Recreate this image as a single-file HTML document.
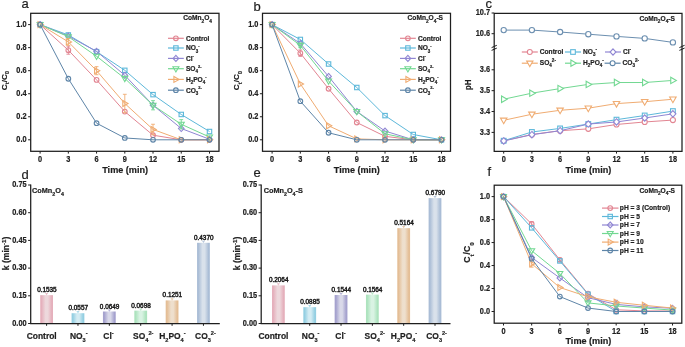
<!DOCTYPE html>
<html><head><meta charset="utf-8"><style>html,body{margin:0;padding:0;background:#fff;} svg,text{font-family:"Liberation Sans",sans-serif;}svg{display:block;will-change:transform;} text{stroke:#1e1e1e;stroke-width:0.2px;}</style></head>
<body>
<svg width="685" height="347" viewBox="0 0 685 347"  fill="#1e1e1e">
<rect width="685" height="347" fill="#fff"/>
<rect x="30.7" y="13.3" width="188.30" height="138.00" fill="none" stroke="#1e1e1e" stroke-width="1.25"/>
<line x1="28.10" y1="139.80" x2="30.70" y2="139.80" stroke="#1e1e1e" stroke-width="1.0"/>
<text transform="translate(26.60,142.15) scale(0.9,1)" font-size="8.2" font-weight="bold" text-anchor="end" >0.0</text>
<line x1="28.10" y1="116.76" x2="30.70" y2="116.76" stroke="#1e1e1e" stroke-width="1.0"/>
<text transform="translate(26.60,119.11) scale(0.9,1)" font-size="8.2" font-weight="bold" text-anchor="end" >0.2</text>
<line x1="28.10" y1="93.72" x2="30.70" y2="93.72" stroke="#1e1e1e" stroke-width="1.0"/>
<text transform="translate(26.60,96.07) scale(0.9,1)" font-size="8.2" font-weight="bold" text-anchor="end" >0.4</text>
<line x1="28.10" y1="70.68" x2="30.70" y2="70.68" stroke="#1e1e1e" stroke-width="1.0"/>
<text transform="translate(26.60,73.03) scale(0.9,1)" font-size="8.2" font-weight="bold" text-anchor="end" >0.6</text>
<line x1="28.10" y1="47.64" x2="30.70" y2="47.64" stroke="#1e1e1e" stroke-width="1.0"/>
<text transform="translate(26.60,49.99) scale(0.9,1)" font-size="8.2" font-weight="bold" text-anchor="end" >0.8</text>
<line x1="28.10" y1="24.60" x2="30.70" y2="24.60" stroke="#1e1e1e" stroke-width="1.0"/>
<text transform="translate(26.60,26.95) scale(0.9,1)" font-size="8.2" font-weight="bold" text-anchor="end" >1.0</text>
<line x1="40.10" y1="151.3" x2="40.10" y2="153.60000000000002" stroke="#1e1e1e" stroke-width="1.0"/>
<text transform="translate(40.10,161.70) scale(0.9,1)" font-size="8.2" font-weight="bold" text-anchor="middle" >0</text>
<line x1="68.33" y1="151.3" x2="68.33" y2="153.60000000000002" stroke="#1e1e1e" stroke-width="1.0"/>
<text transform="translate(68.33,161.70) scale(0.9,1)" font-size="8.2" font-weight="bold" text-anchor="middle" >3</text>
<line x1="96.57" y1="151.3" x2="96.57" y2="153.60000000000002" stroke="#1e1e1e" stroke-width="1.0"/>
<text transform="translate(96.57,161.70) scale(0.9,1)" font-size="8.2" font-weight="bold" text-anchor="middle" >6</text>
<line x1="124.80" y1="151.3" x2="124.80" y2="153.60000000000002" stroke="#1e1e1e" stroke-width="1.0"/>
<text transform="translate(124.80,161.70) scale(0.9,1)" font-size="8.2" font-weight="bold" text-anchor="middle" >9</text>
<line x1="153.03" y1="151.3" x2="153.03" y2="153.60000000000002" stroke="#1e1e1e" stroke-width="1.0"/>
<text transform="translate(153.03,161.70) scale(0.9,1)" font-size="8.2" font-weight="bold" text-anchor="middle" >12</text>
<line x1="181.26" y1="151.3" x2="181.26" y2="153.60000000000002" stroke="#1e1e1e" stroke-width="1.0"/>
<text transform="translate(181.26,161.70) scale(0.9,1)" font-size="8.2" font-weight="bold" text-anchor="middle" >15</text>
<line x1="209.50" y1="151.3" x2="209.50" y2="153.60000000000002" stroke="#1e1e1e" stroke-width="1.0"/>
<text transform="translate(209.50,161.70) scale(0.9,1)" font-size="8.2" font-weight="bold" text-anchor="middle" >18</text>
<text transform="translate(125.15,172.60) scale(0.96,1)" font-size="9.5" font-weight="bold" text-anchor="middle" >Time (min)</text>
<text x="21.4" y="7.7" font-size="13" font-weight="normal">a</text>
<text x="183.2" y="20.3" font-size="6.6" font-weight="bold">CoMn<tspan font-size="4.80" dy="2.20">2</tspan><tspan dy="-2.20">O</tspan><tspan font-size="4.80" dy="2.20">4</tspan></text>
<text transform="translate(6.6,80.6) rotate(-90) scale(1,0.9)" font-size="8.1" font-weight="bold" text-anchor="middle">C<tspan font-size="5.83" dy="3.00">t</tspan><tspan dy="-3.00">/C</tspan><tspan font-size="5.83" dy="3.00">0</tspan></text>
<polyline points="40.10,24.60 68.33,50.17 96.57,79.90 124.80,111.58 153.03,135.19 181.26,139.80 209.50,139.80" fill="none" stroke="#E28592" stroke-width="1.0"/>
<path d="M68.33,46.14V54.21M66.43,46.14h3.8M66.43,54.21h3.8" stroke="#E28592" stroke-width="0.9" fill="none"/>
<circle cx="40.10" cy="24.60" r="2.35" fill="none" stroke="#E28592" stroke-width="1.1"/>
<circle cx="68.33" cy="50.17" r="2.35" fill="none" stroke="#E28592" stroke-width="1.1"/>
<circle cx="96.57" cy="79.90" r="2.35" fill="none" stroke="#E28592" stroke-width="1.1"/>
<circle cx="124.80" cy="111.58" r="2.35" fill="none" stroke="#E28592" stroke-width="1.1"/>
<circle cx="153.03" cy="135.19" r="2.35" fill="none" stroke="#E28592" stroke-width="1.1"/>
<circle cx="181.26" cy="139.80" r="2.35" fill="none" stroke="#E28592" stroke-width="1.1"/>
<circle cx="209.50" cy="139.80" r="2.35" fill="none" stroke="#E28592" stroke-width="1.1"/>
<polyline points="40.10,24.60 68.33,34.97 96.57,51.67 124.80,70.33 153.03,94.64 181.26,114.46 209.50,131.51" fill="none" stroke="#5DB8DA" stroke-width="1.0"/>
<rect x="37.90" y="22.40" width="4.40" height="4.40" fill="none" stroke="#5DB8DA" stroke-width="1.1"/>
<rect x="66.13" y="32.77" width="4.40" height="4.40" fill="none" stroke="#5DB8DA" stroke-width="1.1"/>
<rect x="94.37" y="49.47" width="4.40" height="4.40" fill="none" stroke="#5DB8DA" stroke-width="1.1"/>
<rect x="122.60" y="68.13" width="4.40" height="4.40" fill="none" stroke="#5DB8DA" stroke-width="1.1"/>
<rect x="150.83" y="92.44" width="4.40" height="4.40" fill="none" stroke="#5DB8DA" stroke-width="1.1"/>
<rect x="179.06" y="112.26" width="4.40" height="4.40" fill="none" stroke="#5DB8DA" stroke-width="1.1"/>
<rect x="207.30" y="129.31" width="4.40" height="4.40" fill="none" stroke="#5DB8DA" stroke-width="1.1"/>
<polyline points="40.10,24.60 68.33,36.12 96.57,51.33 124.80,75.29 153.03,105.24 181.26,128.51 209.50,139.22" fill="none" stroke="#9086D3" stroke-width="1.0"/>
<polygon points="40.10,21.60 42.90,24.60 40.10,27.60 37.30,24.60" fill="none" stroke="#9086D3" stroke-width="1.1"/>
<polygon points="68.33,33.12 71.13,36.12 68.33,39.12 65.53,36.12" fill="none" stroke="#9086D3" stroke-width="1.1"/>
<polygon points="96.57,48.33 99.37,51.33 96.57,54.33 93.77,51.33" fill="none" stroke="#9086D3" stroke-width="1.1"/>
<polygon points="124.80,72.29 127.60,75.29 124.80,78.29 122.00,75.29" fill="none" stroke="#9086D3" stroke-width="1.1"/>
<polygon points="153.03,102.24 155.83,105.24 153.03,108.24 150.23,105.24" fill="none" stroke="#9086D3" stroke-width="1.1"/>
<polygon points="181.26,125.51 184.06,128.51 181.26,131.51 178.46,128.51" fill="none" stroke="#9086D3" stroke-width="1.1"/>
<polygon points="209.50,136.22 212.30,139.22 209.50,142.22 206.70,139.22" fill="none" stroke="#9086D3" stroke-width="1.1"/>
<polyline points="40.10,24.60 68.33,36.70 96.57,56.28 124.80,78.40 153.03,105.24 181.26,124.25 209.50,137.04" fill="none" stroke="#72D892" stroke-width="1.0"/>
<path d="M153.03,100.63V109.85M151.13,100.63h3.8M151.13,109.85h3.8" stroke="#72D892" stroke-width="0.9" fill="none"/>
<path d="M181.26,119.64V128.86M179.36,119.64h3.8M179.36,128.86h3.8" stroke="#72D892" stroke-width="0.9" fill="none"/>
<polygon points="37.10,22.60 43.10,22.60 40.10,27.80" fill="none" stroke="#72D892" stroke-width="1.1"/>
<polygon points="65.33,34.70 71.33,34.70 68.33,39.90" fill="none" stroke="#72D892" stroke-width="1.1"/>
<polygon points="93.57,54.28 99.57,54.28 96.57,59.48" fill="none" stroke="#72D892" stroke-width="1.1"/>
<polygon points="121.80,76.40 127.80,76.40 124.80,81.60" fill="none" stroke="#72D892" stroke-width="1.1"/>
<polygon points="150.03,103.24 156.03,103.24 153.03,108.44" fill="none" stroke="#72D892" stroke-width="1.1"/>
<polygon points="178.26,122.25 184.26,122.25 181.26,127.45" fill="none" stroke="#72D892" stroke-width="1.1"/>
<polygon points="206.50,135.04 212.50,135.04 209.50,140.24" fill="none" stroke="#72D892" stroke-width="1.1"/>
<polyline points="40.10,24.60 68.33,41.88 96.57,70.68 124.80,103.51 153.03,129.43 181.26,139.80 209.50,139.80" fill="none" stroke="#F0AC72" stroke-width="1.0"/>
<path d="M68.33,38.42V45.34M66.43,38.42h3.8M66.43,45.34h3.8" stroke="#F0AC72" stroke-width="0.9" fill="none"/>
<path d="M96.57,66.65V74.71M94.67,66.65h3.8M94.67,74.71h3.8" stroke="#F0AC72" stroke-width="0.9" fill="none"/>
<path d="M124.80,94.30V112.73M122.90,94.30h3.8M122.90,112.73h3.8" stroke="#F0AC72" stroke-width="0.9" fill="none"/>
<path d="M153.03,124.25V134.62M151.13,124.25h3.8M151.13,134.62h3.8" stroke="#F0AC72" stroke-width="0.9" fill="none"/>
<polygon points="38.10,21.60 38.10,27.60 43.30,24.60" fill="none" stroke="#F0AC72" stroke-width="1.1"/>
<polygon points="66.33,38.88 66.33,44.88 71.53,41.88" fill="none" stroke="#F0AC72" stroke-width="1.1"/>
<polygon points="94.57,67.68 94.57,73.68 99.77,70.68" fill="none" stroke="#F0AC72" stroke-width="1.1"/>
<polygon points="122.80,100.51 122.80,106.51 128.00,103.51" fill="none" stroke="#F0AC72" stroke-width="1.1"/>
<polygon points="151.03,126.43 151.03,132.43 156.23,129.43" fill="none" stroke="#F0AC72" stroke-width="1.1"/>
<polygon points="179.26,136.80 179.26,142.80 184.46,139.80" fill="none" stroke="#F0AC72" stroke-width="1.1"/>
<polygon points="207.50,136.80 207.50,142.80 212.70,139.80" fill="none" stroke="#F0AC72" stroke-width="1.1"/>
<polyline points="40.10,24.60 68.33,78.74 96.57,123.21 124.80,137.96 153.03,139.80 181.26,139.80 209.50,139.80" fill="none" stroke="#5E85A8" stroke-width="1.0"/>
<circle cx="40.10" cy="24.60" r="2.35" fill="none" stroke="#5E85A8" stroke-width="1.1"/>
<circle cx="68.33" cy="78.74" r="2.35" fill="none" stroke="#5E85A8" stroke-width="1.1"/>
<circle cx="96.57" cy="123.21" r="2.35" fill="none" stroke="#5E85A8" stroke-width="1.1"/>
<circle cx="124.80" cy="137.96" r="2.35" fill="none" stroke="#5E85A8" stroke-width="1.1"/>
<circle cx="153.03" cy="139.80" r="2.35" fill="none" stroke="#5E85A8" stroke-width="1.1"/>
<circle cx="181.26" cy="139.80" r="2.35" fill="none" stroke="#5E85A8" stroke-width="1.1"/>
<circle cx="209.50" cy="139.80" r="2.35" fill="none" stroke="#5E85A8" stroke-width="1.1"/>
<line x1="168.0" y1="38.3" x2="183.8" y2="38.3" stroke="#E28592" stroke-width="1.2"/>
<circle cx="175.90" cy="38.30" r="2.35" fill="none" stroke="#E28592" stroke-width="1.1"/>
<text transform="translate(185.90,40.60) scale(0.96,1)" font-size="6.9" font-weight="bold" text-anchor="start" >Control</text>
<line x1="168.0" y1="48.0" x2="183.8" y2="48.0" stroke="#5DB8DA" stroke-width="1.2"/>
<rect x="173.70" y="45.80" width="4.40" height="4.40" fill="none" stroke="#5DB8DA" stroke-width="1.1"/>
<text transform="translate(185.90,50.30) scale(0.96,1)" font-size="6.9" font-weight="bold" text-anchor="start" >NO<tspan font-size="4.69" dy="2.21">3</tspan><tspan font-size="4.14" dy="-5.52">-</tspan></text>
<line x1="168.0" y1="58.4" x2="183.8" y2="58.4" stroke="#9086D3" stroke-width="1.2"/>
<polygon points="175.90,55.40 178.70,58.40 175.90,61.40 173.10,58.40" fill="none" stroke="#9086D3" stroke-width="1.1"/>
<text transform="translate(185.90,60.70) scale(0.96,1)" font-size="6.9" font-weight="bold" text-anchor="start" >Cl<tspan font-size="4.14" dy="-3.31">-</tspan></text>
<line x1="168.0" y1="68.7" x2="183.8" y2="68.7" stroke="#72D892" stroke-width="1.2"/>
<polygon points="172.90,66.70 178.90,66.70 175.90,71.90" fill="none" stroke="#72D892" stroke-width="1.1"/>
<text transform="translate(185.90,71.00) scale(0.96,1)" font-size="6.9" font-weight="bold" text-anchor="start" >SO<tspan font-size="4.69" dy="2.21">4</tspan><tspan font-size="4.14" dy="-5.52">2-</tspan></text>
<line x1="168.0" y1="79.4" x2="183.8" y2="79.4" stroke="#F0AC72" stroke-width="1.2"/>
<polygon points="173.90,76.40 173.90,82.40 179.10,79.40" fill="none" stroke="#F0AC72" stroke-width="1.1"/>
<text transform="translate(185.90,81.70) scale(0.96,1)" font-size="6.9" font-weight="bold" text-anchor="start" >H<tspan font-size="4.69" dy="2.21">2</tspan><tspan dy="-2.21">PO</tspan><tspan font-size="4.69" dy="2.21">4</tspan><tspan font-size="4.14" dy="-5.52">-</tspan></text>
<line x1="168.0" y1="90.2" x2="183.8" y2="90.2" stroke="#5E85A8" stroke-width="1.2"/>
<circle cx="175.90" cy="90.20" r="2.35" fill="none" stroke="#5E85A8" stroke-width="1.1"/>
<text transform="translate(185.90,92.50) scale(0.96,1)" font-size="6.9" font-weight="bold" text-anchor="start" >CO<tspan font-size="4.69" dy="2.21">3</tspan><tspan font-size="4.14" dy="-5.52">2-</tspan></text>
<rect x="262.5" y="13.3" width="188.00" height="138.00" fill="none" stroke="#1e1e1e" stroke-width="1.25"/>
<line x1="259.90" y1="139.80" x2="262.50" y2="139.80" stroke="#1e1e1e" stroke-width="1.0"/>
<text transform="translate(258.40,142.15) scale(0.9,1)" font-size="8.2" font-weight="bold" text-anchor="end" >0.0</text>
<line x1="259.90" y1="116.76" x2="262.50" y2="116.76" stroke="#1e1e1e" stroke-width="1.0"/>
<text transform="translate(258.40,119.11) scale(0.9,1)" font-size="8.2" font-weight="bold" text-anchor="end" >0.2</text>
<line x1="259.90" y1="93.72" x2="262.50" y2="93.72" stroke="#1e1e1e" stroke-width="1.0"/>
<text transform="translate(258.40,96.07) scale(0.9,1)" font-size="8.2" font-weight="bold" text-anchor="end" >0.4</text>
<line x1="259.90" y1="70.68" x2="262.50" y2="70.68" stroke="#1e1e1e" stroke-width="1.0"/>
<text transform="translate(258.40,73.03) scale(0.9,1)" font-size="8.2" font-weight="bold" text-anchor="end" >0.6</text>
<line x1="259.90" y1="47.64" x2="262.50" y2="47.64" stroke="#1e1e1e" stroke-width="1.0"/>
<text transform="translate(258.40,49.99) scale(0.9,1)" font-size="8.2" font-weight="bold" text-anchor="end" >0.8</text>
<line x1="259.90" y1="24.60" x2="262.50" y2="24.60" stroke="#1e1e1e" stroke-width="1.0"/>
<text transform="translate(258.40,26.95) scale(0.9,1)" font-size="8.2" font-weight="bold" text-anchor="end" >1.0</text>
<line x1="272.10" y1="151.3" x2="272.10" y2="153.60000000000002" stroke="#1e1e1e" stroke-width="1.0"/>
<text transform="translate(272.10,161.70) scale(0.9,1)" font-size="8.2" font-weight="bold" text-anchor="middle" >0</text>
<line x1="300.33" y1="151.3" x2="300.33" y2="153.60000000000002" stroke="#1e1e1e" stroke-width="1.0"/>
<text transform="translate(300.33,161.70) scale(0.9,1)" font-size="8.2" font-weight="bold" text-anchor="middle" >3</text>
<line x1="328.57" y1="151.3" x2="328.57" y2="153.60000000000002" stroke="#1e1e1e" stroke-width="1.0"/>
<text transform="translate(328.57,161.70) scale(0.9,1)" font-size="8.2" font-weight="bold" text-anchor="middle" >6</text>
<line x1="356.80" y1="151.3" x2="356.80" y2="153.60000000000002" stroke="#1e1e1e" stroke-width="1.0"/>
<text transform="translate(356.80,161.70) scale(0.9,1)" font-size="8.2" font-weight="bold" text-anchor="middle" >9</text>
<line x1="385.03" y1="151.3" x2="385.03" y2="153.60000000000002" stroke="#1e1e1e" stroke-width="1.0"/>
<text transform="translate(385.03,161.70) scale(0.9,1)" font-size="8.2" font-weight="bold" text-anchor="middle" >12</text>
<line x1="413.26" y1="151.3" x2="413.26" y2="153.60000000000002" stroke="#1e1e1e" stroke-width="1.0"/>
<text transform="translate(413.26,161.70) scale(0.9,1)" font-size="8.2" font-weight="bold" text-anchor="middle" >15</text>
<line x1="441.50" y1="151.3" x2="441.50" y2="153.60000000000002" stroke="#1e1e1e" stroke-width="1.0"/>
<text transform="translate(441.50,161.70) scale(0.9,1)" font-size="8.2" font-weight="bold" text-anchor="middle" >18</text>
<text transform="translate(356.80,172.60) scale(0.96,1)" font-size="9.5" font-weight="bold" text-anchor="middle" >Time (min)</text>
<text x="253.5" y="10.9" font-size="13" font-weight="normal">b</text>
<text x="407.6" y="20.3" font-size="6.6" font-weight="bold">CoMn<tspan font-size="4.80" dy="2.20">2</tspan><tspan dy="-2.20">O</tspan><tspan font-size="4.80" dy="2.20">4</tspan><tspan dy="-2.20">-S</tspan></text>
<text transform="translate(238.8,80.6) rotate(-90) scale(1,0.9)" font-size="8.1" font-weight="bold" text-anchor="middle">C<tspan font-size="5.83" dy="3.00">t</tspan><tspan dy="-3.00">/C</tspan><tspan font-size="5.83" dy="3.00">0</tspan></text>
<polyline points="272.10,24.60 300.33,53.17 328.57,88.77 356.80,122.52 385.03,136.34 413.26,139.80 441.50,139.80" fill="none" stroke="#E28592" stroke-width="1.0"/>
<path d="M300.33,49.94V56.40M298.43,49.94h3.8M298.43,56.40h3.8" stroke="#E28592" stroke-width="0.9" fill="none"/>
<circle cx="272.10" cy="24.60" r="2.35" fill="none" stroke="#E28592" stroke-width="1.1"/>
<circle cx="300.33" cy="53.17" r="2.35" fill="none" stroke="#E28592" stroke-width="1.1"/>
<circle cx="328.57" cy="88.77" r="2.35" fill="none" stroke="#E28592" stroke-width="1.1"/>
<circle cx="356.80" cy="122.52" r="2.35" fill="none" stroke="#E28592" stroke-width="1.1"/>
<circle cx="385.03" cy="136.34" r="2.35" fill="none" stroke="#E28592" stroke-width="1.1"/>
<circle cx="413.26" cy="139.80" r="2.35" fill="none" stroke="#E28592" stroke-width="1.1"/>
<circle cx="441.50" cy="139.80" r="2.35" fill="none" stroke="#E28592" stroke-width="1.1"/>
<polyline points="272.10,24.60 300.33,39.46 328.57,64.00 356.80,87.50 385.03,115.61 413.26,134.50 441.50,139.80" fill="none" stroke="#5DB8DA" stroke-width="1.0"/>
<rect x="269.90" y="22.40" width="4.40" height="4.40" fill="none" stroke="#5DB8DA" stroke-width="1.1"/>
<rect x="298.13" y="37.26" width="4.40" height="4.40" fill="none" stroke="#5DB8DA" stroke-width="1.1"/>
<rect x="326.37" y="61.80" width="4.40" height="4.40" fill="none" stroke="#5DB8DA" stroke-width="1.1"/>
<rect x="354.60" y="85.30" width="4.40" height="4.40" fill="none" stroke="#5DB8DA" stroke-width="1.1"/>
<rect x="382.83" y="113.41" width="4.40" height="4.40" fill="none" stroke="#5DB8DA" stroke-width="1.1"/>
<rect x="411.06" y="132.30" width="4.40" height="4.40" fill="none" stroke="#5DB8DA" stroke-width="1.1"/>
<rect x="439.30" y="137.60" width="4.40" height="4.40" fill="none" stroke="#5DB8DA" stroke-width="1.1"/>
<polyline points="272.10,24.60 300.33,43.49 328.57,76.44 356.80,111.46 385.03,131.04 413.26,139.80 441.50,139.80" fill="none" stroke="#9086D3" stroke-width="1.0"/>
<polygon points="272.10,21.60 274.90,24.60 272.10,27.60 269.30,24.60" fill="none" stroke="#9086D3" stroke-width="1.1"/>
<polygon points="300.33,40.49 303.13,43.49 300.33,46.49 297.53,43.49" fill="none" stroke="#9086D3" stroke-width="1.1"/>
<polygon points="328.57,73.44 331.37,76.44 328.57,79.44 325.77,76.44" fill="none" stroke="#9086D3" stroke-width="1.1"/>
<polygon points="356.80,108.46 359.60,111.46 356.80,114.46 354.00,111.46" fill="none" stroke="#9086D3" stroke-width="1.1"/>
<polygon points="385.03,128.04 387.83,131.04 385.03,134.04 382.23,131.04" fill="none" stroke="#9086D3" stroke-width="1.1"/>
<polygon points="413.26,136.80 416.06,139.80 413.26,142.80 410.46,139.80" fill="none" stroke="#9086D3" stroke-width="1.1"/>
<polygon points="441.50,136.80 444.30,139.80 441.50,142.80 438.70,139.80" fill="none" stroke="#9086D3" stroke-width="1.1"/>
<polyline points="272.10,24.60 300.33,45.34 328.57,81.05 356.80,111.46 385.03,133.81 413.26,139.80 441.50,139.80" fill="none" stroke="#72D892" stroke-width="1.0"/>
<path d="M300.33,43.03V47.64M298.43,43.03h3.8M298.43,47.64h3.8" stroke="#72D892" stroke-width="0.9" fill="none"/>
<polygon points="269.10,22.60 275.10,22.60 272.10,27.80" fill="none" stroke="#72D892" stroke-width="1.1"/>
<polygon points="297.33,43.34 303.33,43.34 300.33,48.54" fill="none" stroke="#72D892" stroke-width="1.1"/>
<polygon points="325.57,79.05 331.57,79.05 328.57,84.25" fill="none" stroke="#72D892" stroke-width="1.1"/>
<polygon points="353.80,109.46 359.80,109.46 356.80,114.66" fill="none" stroke="#72D892" stroke-width="1.1"/>
<polygon points="382.03,131.81 388.03,131.81 385.03,137.01" fill="none" stroke="#72D892" stroke-width="1.1"/>
<polygon points="410.26,137.80 416.26,137.80 413.26,143.00" fill="none" stroke="#72D892" stroke-width="1.1"/>
<polygon points="438.50,137.80 444.50,137.80 441.50,143.00" fill="none" stroke="#72D892" stroke-width="1.1"/>
<polyline points="272.10,24.60 300.33,83.93 328.57,125.75 356.80,138.88 385.03,139.80 413.26,139.80 441.50,139.80" fill="none" stroke="#F0AC72" stroke-width="1.0"/>
<polygon points="270.10,21.60 270.10,27.60 275.30,24.60" fill="none" stroke="#F0AC72" stroke-width="1.1"/>
<polygon points="298.33,80.93 298.33,86.93 303.53,83.93" fill="none" stroke="#F0AC72" stroke-width="1.1"/>
<polygon points="326.57,122.75 326.57,128.75 331.77,125.75" fill="none" stroke="#F0AC72" stroke-width="1.1"/>
<polygon points="354.80,135.88 354.80,141.88 360.00,138.88" fill="none" stroke="#F0AC72" stroke-width="1.1"/>
<polygon points="383.03,136.80 383.03,142.80 388.23,139.80" fill="none" stroke="#F0AC72" stroke-width="1.1"/>
<polygon points="411.26,136.80 411.26,142.80 416.46,139.80" fill="none" stroke="#F0AC72" stroke-width="1.1"/>
<polygon points="439.50,136.80 439.50,142.80 444.70,139.80" fill="none" stroke="#F0AC72" stroke-width="1.1"/>
<polyline points="272.10,24.60 300.33,101.21 328.57,132.77 356.80,139.80 385.03,139.80 413.26,139.80 441.50,139.80" fill="none" stroke="#5E85A8" stroke-width="1.0"/>
<circle cx="272.10" cy="24.60" r="2.35" fill="none" stroke="#5E85A8" stroke-width="1.1"/>
<circle cx="300.33" cy="101.21" r="2.35" fill="none" stroke="#5E85A8" stroke-width="1.1"/>
<circle cx="328.57" cy="132.77" r="2.35" fill="none" stroke="#5E85A8" stroke-width="1.1"/>
<circle cx="356.80" cy="139.80" r="2.35" fill="none" stroke="#5E85A8" stroke-width="1.1"/>
<circle cx="385.03" cy="139.80" r="2.35" fill="none" stroke="#5E85A8" stroke-width="1.1"/>
<circle cx="413.26" cy="139.80" r="2.35" fill="none" stroke="#5E85A8" stroke-width="1.1"/>
<circle cx="441.50" cy="139.80" r="2.35" fill="none" stroke="#5E85A8" stroke-width="1.1"/>
<line x1="400.0" y1="38.3" x2="415.8" y2="38.3" stroke="#E28592" stroke-width="1.2"/>
<circle cx="407.90" cy="38.30" r="2.35" fill="none" stroke="#E28592" stroke-width="1.1"/>
<text transform="translate(417.90,40.60) scale(0.96,1)" font-size="6.9" font-weight="bold" text-anchor="start" >Control</text>
<line x1="400.0" y1="48.0" x2="415.8" y2="48.0" stroke="#5DB8DA" stroke-width="1.2"/>
<rect x="405.70" y="45.80" width="4.40" height="4.40" fill="none" stroke="#5DB8DA" stroke-width="1.1"/>
<text transform="translate(417.90,50.30) scale(0.96,1)" font-size="6.9" font-weight="bold" text-anchor="start" >NO<tspan font-size="4.69" dy="2.21">3</tspan><tspan font-size="4.14" dy="-5.52">-</tspan></text>
<line x1="400.0" y1="58.4" x2="415.8" y2="58.4" stroke="#9086D3" stroke-width="1.2"/>
<polygon points="407.90,55.40 410.70,58.40 407.90,61.40 405.10,58.40" fill="none" stroke="#9086D3" stroke-width="1.1"/>
<text transform="translate(417.90,60.70) scale(0.96,1)" font-size="6.9" font-weight="bold" text-anchor="start" >Cl<tspan font-size="4.14" dy="-3.31">-</tspan></text>
<line x1="400.0" y1="68.7" x2="415.8" y2="68.7" stroke="#72D892" stroke-width="1.2"/>
<polygon points="404.90,66.70 410.90,66.70 407.90,71.90" fill="none" stroke="#72D892" stroke-width="1.1"/>
<text transform="translate(417.90,71.00) scale(0.96,1)" font-size="6.9" font-weight="bold" text-anchor="start" >SO<tspan font-size="4.69" dy="2.21">4</tspan><tspan font-size="4.14" dy="-5.52">2-</tspan></text>
<line x1="400.0" y1="79.4" x2="415.8" y2="79.4" stroke="#F0AC72" stroke-width="1.2"/>
<polygon points="405.90,76.40 405.90,82.40 411.10,79.40" fill="none" stroke="#F0AC72" stroke-width="1.1"/>
<text transform="translate(417.90,81.70) scale(0.96,1)" font-size="6.9" font-weight="bold" text-anchor="start" >H<tspan font-size="4.69" dy="2.21">2</tspan><tspan dy="-2.21">PO</tspan><tspan font-size="4.69" dy="2.21">4</tspan><tspan font-size="4.14" dy="-5.52">-</tspan></text>
<line x1="400.0" y1="90.2" x2="415.8" y2="90.2" stroke="#5E85A8" stroke-width="1.2"/>
<circle cx="407.90" cy="90.20" r="2.35" fill="none" stroke="#5E85A8" stroke-width="1.1"/>
<text transform="translate(417.90,92.50) scale(0.96,1)" font-size="6.9" font-weight="bold" text-anchor="start" >CO<tspan font-size="4.69" dy="2.21">3</tspan><tspan font-size="4.14" dy="-5.52">2-</tspan></text>
<path d="M494.2,48.3V13.3H682.0V48.3M494.2,48.3V151.3H682.0V48.3" fill="none" stroke="#1e1e1e" stroke-width="1.25"/>
<path d="M491.59999999999997,47.6L496.8,45.3M491.59999999999997,50.4L496.8,48.1" stroke="#1e1e1e" stroke-width="1.0"/>
<path d="M679.4,47.6L684.6,45.3M679.4,50.4L684.6,48.1" stroke="#1e1e1e" stroke-width="1.0"/>
<line x1="491.60" y1="13.00" x2="494.20" y2="13.00" stroke="#1e1e1e" stroke-width="1.0"/>
<text transform="translate(490.10,15.35) scale(0.9,1)" font-size="8.2" font-weight="bold" text-anchor="end" >10.7</text>
<line x1="491.60" y1="33.70" x2="494.20" y2="33.70" stroke="#1e1e1e" stroke-width="1.0"/>
<text transform="translate(490.10,36.05) scale(0.9,1)" font-size="8.2" font-weight="bold" text-anchor="end" >10.6</text>
<line x1="491.60" y1="69.79" x2="494.20" y2="69.79" stroke="#1e1e1e" stroke-width="1.0"/>
<text transform="translate(490.10,72.14) scale(0.9,1)" font-size="8.2" font-weight="bold" text-anchor="end" >3.6</text>
<line x1="491.60" y1="90.66" x2="494.20" y2="90.66" stroke="#1e1e1e" stroke-width="1.0"/>
<text transform="translate(490.10,93.01) scale(0.9,1)" font-size="8.2" font-weight="bold" text-anchor="end" >3.5</text>
<line x1="491.60" y1="111.53" x2="494.20" y2="111.53" stroke="#1e1e1e" stroke-width="1.0"/>
<text transform="translate(490.10,113.88) scale(0.9,1)" font-size="8.2" font-weight="bold" text-anchor="end" >3.4</text>
<line x1="491.60" y1="132.40" x2="494.20" y2="132.40" stroke="#1e1e1e" stroke-width="1.0"/>
<text transform="translate(490.10,134.75) scale(0.9,1)" font-size="8.2" font-weight="bold" text-anchor="end" >3.3</text>
<line x1="503.70" y1="151.3" x2="503.70" y2="153.60000000000002" stroke="#1e1e1e" stroke-width="1.0"/>
<text transform="translate(503.70,161.70) scale(0.9,1)" font-size="8.2" font-weight="bold" text-anchor="middle" >0</text>
<line x1="531.90" y1="151.3" x2="531.90" y2="153.60000000000002" stroke="#1e1e1e" stroke-width="1.0"/>
<text transform="translate(531.90,161.70) scale(0.9,1)" font-size="8.2" font-weight="bold" text-anchor="middle" >3</text>
<line x1="560.10" y1="151.3" x2="560.10" y2="153.60000000000002" stroke="#1e1e1e" stroke-width="1.0"/>
<text transform="translate(560.10,161.70) scale(0.9,1)" font-size="8.2" font-weight="bold" text-anchor="middle" >6</text>
<line x1="588.30" y1="151.3" x2="588.30" y2="153.60000000000002" stroke="#1e1e1e" stroke-width="1.0"/>
<text transform="translate(588.30,161.70) scale(0.9,1)" font-size="8.2" font-weight="bold" text-anchor="middle" >9</text>
<line x1="616.50" y1="151.3" x2="616.50" y2="153.60000000000002" stroke="#1e1e1e" stroke-width="1.0"/>
<text transform="translate(616.50,161.70) scale(0.9,1)" font-size="8.2" font-weight="bold" text-anchor="middle" >12</text>
<line x1="644.70" y1="151.3" x2="644.70" y2="153.60000000000002" stroke="#1e1e1e" stroke-width="1.0"/>
<text transform="translate(644.70,161.70) scale(0.9,1)" font-size="8.2" font-weight="bold" text-anchor="middle" >15</text>
<line x1="672.90" y1="151.3" x2="672.90" y2="153.60000000000002" stroke="#1e1e1e" stroke-width="1.0"/>
<text transform="translate(672.90,161.70) scale(0.9,1)" font-size="8.2" font-weight="bold" text-anchor="middle" >18</text>
<text transform="translate(588.40,172.90) scale(0.96,1)" font-size="9.5" font-weight="bold" text-anchor="middle" >Time (min)</text>
<text x="485.4" y="8.0" font-size="13" font-weight="normal">c</text>
<text x="639.5" y="20.6" font-size="6.6" font-weight="bold">CoMn<tspan font-size="4.80" dy="2.20">2</tspan><tspan dy="-2.20">O</tspan><tspan font-size="4.80" dy="2.20">4</tspan><tspan dy="-2.20">-S</tspan></text>
<text transform="translate(471.0,84.7) rotate(-90) scale(0.87,1)" font-size="9.0" font-weight="bold" text-anchor="middle">pH</text>
<polyline points="503.70,140.75 531.90,134.49 560.10,130.73 588.30,128.85 616.50,124.47 644.70,121.96 672.90,120.09" fill="none" stroke="#E28592" stroke-width="1.0"/>
<circle cx="503.70" cy="140.75" r="2.54" fill="#fff" stroke="#E28592" stroke-width="1.1"/>
<circle cx="531.90" cy="134.49" r="2.54" fill="#fff" stroke="#E28592" stroke-width="1.1"/>
<circle cx="560.10" cy="130.73" r="2.54" fill="#fff" stroke="#E28592" stroke-width="1.1"/>
<circle cx="588.30" cy="128.85" r="2.54" fill="#fff" stroke="#E28592" stroke-width="1.1"/>
<circle cx="616.50" cy="124.47" r="2.54" fill="#fff" stroke="#E28592" stroke-width="1.1"/>
<circle cx="644.70" cy="121.96" r="2.54" fill="#fff" stroke="#E28592" stroke-width="1.1"/>
<circle cx="672.90" cy="120.09" r="2.54" fill="#fff" stroke="#E28592" stroke-width="1.1"/>
<polyline points="503.70,140.75 531.90,131.98 560.10,128.43 588.30,124.05 616.50,119.67 644.70,115.50 672.90,111.11" fill="none" stroke="#5DB8DA" stroke-width="1.0"/>
<rect x="501.32" y="138.37" width="4.75" height="4.75" fill="#fff" stroke="#5DB8DA" stroke-width="1.1"/>
<rect x="529.52" y="129.61" width="4.75" height="4.75" fill="#fff" stroke="#5DB8DA" stroke-width="1.1"/>
<rect x="557.72" y="126.06" width="4.75" height="4.75" fill="#fff" stroke="#5DB8DA" stroke-width="1.1"/>
<rect x="585.92" y="121.68" width="4.75" height="4.75" fill="#fff" stroke="#5DB8DA" stroke-width="1.1"/>
<rect x="614.12" y="117.29" width="4.75" height="4.75" fill="#fff" stroke="#5DB8DA" stroke-width="1.1"/>
<rect x="642.32" y="113.12" width="4.75" height="4.75" fill="#fff" stroke="#5DB8DA" stroke-width="1.1"/>
<rect x="670.52" y="108.74" width="4.75" height="4.75" fill="#fff" stroke="#5DB8DA" stroke-width="1.1"/>
<polyline points="503.70,140.96 531.90,134.70 560.10,130.73 588.30,124.05 616.50,121.96 644.70,118.00 672.90,113.83" fill="none" stroke="#9086D3" stroke-width="1.0"/>
<polygon points="503.70,137.72 506.72,140.96 503.70,144.20 500.68,140.96" fill="#fff" stroke="#9086D3" stroke-width="1.1"/>
<polygon points="531.90,131.46 534.92,134.70 531.90,137.94 528.88,134.70" fill="#fff" stroke="#9086D3" stroke-width="1.1"/>
<polygon points="560.10,127.49 563.12,130.73 560.10,133.97 557.08,130.73" fill="#fff" stroke="#9086D3" stroke-width="1.1"/>
<polygon points="588.30,120.81 591.32,124.05 588.30,127.29 585.28,124.05" fill="#fff" stroke="#9086D3" stroke-width="1.1"/>
<polygon points="616.50,118.72 619.52,121.96 616.50,125.20 613.48,121.96" fill="#fff" stroke="#9086D3" stroke-width="1.1"/>
<polygon points="644.70,114.76 647.72,118.00 644.70,121.24 641.68,118.00" fill="#fff" stroke="#9086D3" stroke-width="1.1"/>
<polygon points="672.90,110.59 675.92,113.83 672.90,117.07 669.88,113.83" fill="#fff" stroke="#9086D3" stroke-width="1.1"/>
<polyline points="503.70,120.30 531.90,114.24 560.10,110.28 588.30,108.19 616.50,103.60 644.70,101.72 672.90,99.22" fill="none" stroke="#F0AC72" stroke-width="1.0"/>
<polygon points="500.46,118.14 506.94,118.14 503.70,123.75" fill="#fff" stroke="#F0AC72" stroke-width="1.1"/>
<polygon points="528.66,112.08 535.14,112.08 531.90,117.70" fill="#fff" stroke="#F0AC72" stroke-width="1.1"/>
<polygon points="556.86,108.12 563.34,108.12 560.10,113.73" fill="#fff" stroke="#F0AC72" stroke-width="1.1"/>
<polygon points="585.06,106.03 591.54,106.03 588.30,111.65" fill="#fff" stroke="#F0AC72" stroke-width="1.1"/>
<polygon points="613.26,101.44 619.74,101.44 616.50,107.06" fill="#fff" stroke="#F0AC72" stroke-width="1.1"/>
<polygon points="641.46,99.56 647.94,99.56 644.70,105.18" fill="#fff" stroke="#F0AC72" stroke-width="1.1"/>
<polygon points="669.66,97.06 676.14,97.06 672.90,102.67" fill="#fff" stroke="#F0AC72" stroke-width="1.1"/>
<polyline points="503.70,99.22 531.90,93.16 560.10,88.57 588.30,84.40 616.50,82.52 644.70,82.52 672.90,80.43" fill="none" stroke="#72D892" stroke-width="1.0"/>
<polygon points="501.54,95.98 501.54,102.46 507.16,99.22" fill="#fff" stroke="#72D892" stroke-width="1.1"/>
<polygon points="529.74,89.92 529.74,96.40 535.36,93.16" fill="#fff" stroke="#72D892" stroke-width="1.1"/>
<polygon points="557.94,85.33 557.94,91.81 563.56,88.57" fill="#fff" stroke="#72D892" stroke-width="1.1"/>
<polygon points="586.14,81.16 586.14,87.64 591.76,84.40" fill="#fff" stroke="#72D892" stroke-width="1.1"/>
<polygon points="614.34,79.28 614.34,85.76 619.96,82.52" fill="#fff" stroke="#72D892" stroke-width="1.1"/>
<polygon points="642.54,79.28 642.54,85.76 648.16,82.52" fill="#fff" stroke="#72D892" stroke-width="1.1"/>
<polygon points="670.74,77.19 670.74,83.67 676.36,80.43" fill="#fff" stroke="#72D892" stroke-width="1.1"/>
<polyline points="503.70,30.10 531.90,30.10 560.10,32.00 588.30,34.20 616.50,36.40 644.70,38.40 672.90,42.40" fill="none" stroke="#6C8FB0" stroke-width="1.0"/>
<circle cx="503.70" cy="30.10" r="2.63" fill="#fff" stroke="#6C8FB0" stroke-width="1.1"/>
<circle cx="531.90" cy="30.10" r="2.63" fill="#fff" stroke="#6C8FB0" stroke-width="1.1"/>
<circle cx="560.10" cy="32.00" r="2.63" fill="#fff" stroke="#6C8FB0" stroke-width="1.1"/>
<circle cx="588.30" cy="34.20" r="2.63" fill="#fff" stroke="#6C8FB0" stroke-width="1.1"/>
<circle cx="616.50" cy="36.40" r="2.63" fill="#fff" stroke="#6C8FB0" stroke-width="1.1"/>
<circle cx="644.70" cy="38.40" r="2.63" fill="#fff" stroke="#6C8FB0" stroke-width="1.1"/>
<circle cx="672.90" cy="42.40" r="2.63" fill="#fff" stroke="#6C8FB0" stroke-width="1.1"/>
<line x1="521.8" y1="52.0" x2="537.8" y2="52.0" stroke="#E28592" stroke-width="1.2"/>
<circle cx="529.80" cy="52.00" r="2.47" fill="#fff" stroke="#E28592" stroke-width="1.1"/>
<text transform="translate(539.80,53.80) scale(0.96,1)" font-size="6.9" font-weight="bold" text-anchor="start" >Control</text>
<line x1="565.0" y1="52.0" x2="581.0" y2="52.0" stroke="#5DB8DA" stroke-width="1.2"/>
<rect x="570.69" y="49.69" width="4.62" height="4.62" fill="#fff" stroke="#5DB8DA" stroke-width="1.1"/>
<text transform="translate(583.00,53.80) scale(0.96,1)" font-size="6.9" font-weight="bold" text-anchor="start" >NO<tspan font-size="4.69" dy="2.21">3</tspan><tspan font-size="4.83" dy="-5.52">-</tspan></text>
<line x1="605.0" y1="52.0" x2="621.0" y2="52.0" stroke="#9086D3" stroke-width="1.2"/>
<polygon points="613.00,48.85 615.94,52.00 613.00,55.15 610.06,52.00" fill="#fff" stroke="#9086D3" stroke-width="1.1"/>
<text transform="translate(623.00,53.80) scale(0.96,1)" font-size="6.9" font-weight="bold" text-anchor="start" >Cl<tspan font-size="4.83" dy="-3.31">-</tspan></text>
<line x1="521.8" y1="63.2" x2="537.8" y2="63.2" stroke="#F0AC72" stroke-width="1.2"/>
<polygon points="526.65,61.10 532.95,61.10 529.80,66.56" fill="#fff" stroke="#F0AC72" stroke-width="1.1"/>
<text transform="translate(539.80,65.00) scale(0.96,1)" font-size="6.9" font-weight="bold" text-anchor="start" >SO<tspan font-size="4.69" dy="2.21">4</tspan><tspan font-size="4.83" dy="-5.52">2-</tspan></text>
<line x1="565.0" y1="63.2" x2="581.0" y2="63.2" stroke="#72D892" stroke-width="1.2"/>
<polygon points="570.90,60.05 570.90,66.35 576.36,63.20" fill="#fff" stroke="#72D892" stroke-width="1.1"/>
<text transform="translate(583.00,65.00) scale(0.96,1)" font-size="6.9" font-weight="bold" text-anchor="start" >H<tspan font-size="4.69" dy="2.21">2</tspan><tspan dy="-2.21">PO</tspan><tspan font-size="4.69" dy="2.21">4</tspan><tspan font-size="4.83" dy="-5.52">-</tspan></text>
<line x1="604.6" y1="63.2" x2="620.6" y2="63.2" stroke="#5E85A8" stroke-width="1.2"/>
<circle cx="612.60" cy="63.20" r="2.47" fill="#fff" stroke="#5E85A8" stroke-width="1.1"/>
<text transform="translate(622.60,65.00) scale(0.96,1)" font-size="6.9" font-weight="bold" text-anchor="start" >CO<tspan font-size="4.69" dy="2.21">3</tspan><tspan font-size="4.83" dy="-5.52">2-</tspan></text>
<defs><linearGradient id="g0" x1="0" x2="1" y1="0" y2="0"><stop offset="0" stop-color="#E5B0BC"/><stop offset="0.1" stop-color="#E5B0BC"/><stop offset="0.42" stop-color="#EDD8DC"/><stop offset="0.6" stop-color="#EDD8DC"/><stop offset="0.9" stop-color="#E5B0BC"/><stop offset="1" stop-color="#E5B0BC"/></linearGradient><linearGradient id="g1" x1="0" x2="1" y1="0" y2="0"><stop offset="0" stop-color="#94CFE2"/><stop offset="0.1" stop-color="#94CFE2"/><stop offset="0.42" stop-color="#D4ECF3"/><stop offset="0.6" stop-color="#D4ECF3"/><stop offset="0.9" stop-color="#94CFE2"/><stop offset="1" stop-color="#94CFE2"/></linearGradient><linearGradient id="g2" x1="0" x2="1" y1="0" y2="0"><stop offset="0" stop-color="#A5A2CE"/><stop offset="0.1" stop-color="#A5A2CE"/><stop offset="0.42" stop-color="#D9D9E9"/><stop offset="0.6" stop-color="#D9D9E9"/><stop offset="0.9" stop-color="#A5A2CE"/><stop offset="1" stop-color="#A5A2CE"/></linearGradient><linearGradient id="g3" x1="0" x2="1" y1="0" y2="0"><stop offset="0" stop-color="#ADE3BE"/><stop offset="0.1" stop-color="#ADE3BE"/><stop offset="0.42" stop-color="#D9F3E3"/><stop offset="0.6" stop-color="#D9F3E3"/><stop offset="0.9" stop-color="#ADE3BE"/><stop offset="1" stop-color="#ADE3BE"/></linearGradient><linearGradient id="g4" x1="0" x2="1" y1="0" y2="0"><stop offset="0" stop-color="#E4BE96"/><stop offset="0.1" stop-color="#E4BE96"/><stop offset="0.42" stop-color="#EEDFCD"/><stop offset="0.6" stop-color="#EEDFCD"/><stop offset="0.9" stop-color="#E4BE96"/><stop offset="1" stop-color="#E4BE96"/></linearGradient><linearGradient id="g5" x1="0" x2="1" y1="0" y2="0"><stop offset="0" stop-color="#AABDD6"/><stop offset="0.1" stop-color="#AABDD6"/><stop offset="0.42" stop-color="#D9E1EB"/><stop offset="0.6" stop-color="#D9E1EB"/><stop offset="0.9" stop-color="#AABDD6"/><stop offset="1" stop-color="#AABDD6"/></linearGradient></defs>
<rect x="40.20" y="295.15" width="12.8" height="28.35" fill="url(#g0)"/>
<path d="M46.60,293.55V295.15M45.30,293.55h2.6" stroke="#E5B0BC" stroke-width="0.8"/>
<text x="46.90" y="292.15" font-size="6.4" font-weight="normal" text-anchor="middle" style="stroke-width:0.45px">0.1535</text>
<line x1="46.60" y1="323.5" x2="46.60" y2="325.8" stroke="#1e1e1e" stroke-width="1.0"/>
<text transform="translate(41.70,339.20) scale(0.94,1)" font-size="9.0" font-weight="bold" text-anchor="middle" >Control</text>
<rect x="71.57" y="313.21" width="12.8" height="10.29" fill="url(#g1)"/>
<path d="M77.97,311.61V313.21M76.67,311.61h2.6" stroke="#94CFE2" stroke-width="0.8"/>
<text x="78.27" y="310.21" font-size="6.4" font-weight="normal" text-anchor="middle" style="stroke-width:0.45px">0.0557</text>
<line x1="77.97" y1="323.5" x2="77.97" y2="325.8" stroke="#1e1e1e" stroke-width="1.0"/>
<text transform="translate(78.70,339.20) scale(0.94,1)" font-size="9.0" font-weight="bold" text-anchor="middle" >NO<tspan font-size="5.94" dy="2.88">3</tspan><tspan font-size="5.94" dy="-7.20">-</tspan></text>
<rect x="102.94" y="311.51" width="12.8" height="11.99" fill="url(#g2)"/>
<path d="M109.34,309.91V311.51M108.04,309.91h2.6" stroke="#A5A2CE" stroke-width="0.8"/>
<text x="109.64" y="308.51" font-size="6.4" font-weight="normal" text-anchor="middle" style="stroke-width:0.45px">0.0649</text>
<line x1="109.34" y1="323.5" x2="109.34" y2="325.8" stroke="#1e1e1e" stroke-width="1.0"/>
<text transform="translate(108.50,339.20) scale(0.94,1)" font-size="9.0" font-weight="bold" text-anchor="middle" >Cl<tspan font-size="5.94" dy="-4.32">-</tspan></text>
<rect x="134.31" y="310.61" width="12.8" height="12.89" fill="url(#g3)"/>
<path d="M140.71,309.01V310.61M139.41,309.01h2.6" stroke="#ADE3BE" stroke-width="0.8"/>
<text x="141.01" y="307.61" font-size="6.4" font-weight="normal" text-anchor="middle" style="stroke-width:0.45px">0.0698</text>
<line x1="140.71" y1="323.5" x2="140.71" y2="325.8" stroke="#1e1e1e" stroke-width="1.0"/>
<text transform="translate(143.20,339.20) scale(0.94,1)" font-size="9.0" font-weight="bold" text-anchor="middle" >SO<tspan font-size="5.94" dy="2.88">4</tspan><tspan font-size="5.94" dy="-7.20">2-</tspan></text>
<rect x="165.68" y="300.40" width="12.8" height="23.10" fill="url(#g4)"/>
<path d="M172.08,298.80V300.40M170.78,298.80h2.6" stroke="#E4BE96" stroke-width="0.8"/>
<text x="172.38" y="297.40" font-size="6.4" font-weight="normal" text-anchor="middle" style="stroke-width:0.45px">0.1251</text>
<line x1="172.08" y1="323.5" x2="172.08" y2="325.8" stroke="#1e1e1e" stroke-width="1.0"/>
<text transform="translate(172.40,339.20) scale(0.94,1)" font-size="9.0" font-weight="bold" text-anchor="middle" >H<tspan font-size="5.94" dy="2.88">2</tspan><tspan dy="-2.88">PO</tspan><tspan font-size="5.94" dy="2.88">4</tspan><tspan font-size="5.94" dy="-7.20">-</tspan></text>
<rect x="197.05" y="242.80" width="12.8" height="80.70" fill="url(#g5)"/>
<path d="M203.45,241.20V242.80M202.15,241.20h2.6" stroke="#AABDD6" stroke-width="0.8"/>
<text x="203.75" y="239.80" font-size="6.4" font-weight="normal" text-anchor="middle" style="stroke-width:0.45px">0.4370</text>
<line x1="203.45" y1="323.5" x2="203.45" y2="325.8" stroke="#1e1e1e" stroke-width="1.0"/>
<text transform="translate(205.40,339.20) scale(0.94,1)" font-size="9.0" font-weight="bold" text-anchor="middle" >CO<tspan font-size="5.94" dy="2.88">3</tspan><tspan font-size="5.94" dy="-7.20">2-</tspan></text>
<path d="M30.7,184.6V323.5H219.8" fill="none" stroke="#1e1e1e" stroke-width="1.25"/>
<line x1="28.10" y1="323.50" x2="30.70" y2="323.50" stroke="#1e1e1e" stroke-width="1.0"/>
<text transform="translate(26.60,325.85) scale(0.9,1)" font-size="8.2" font-weight="bold" text-anchor="end" >0.00</text>
<line x1="28.10" y1="295.80" x2="30.70" y2="295.80" stroke="#1e1e1e" stroke-width="1.0"/>
<text transform="translate(26.60,298.15) scale(0.9,1)" font-size="8.2" font-weight="bold" text-anchor="end" >0.15</text>
<line x1="28.10" y1="268.10" x2="30.70" y2="268.10" stroke="#1e1e1e" stroke-width="1.0"/>
<text transform="translate(26.60,270.45) scale(0.9,1)" font-size="8.2" font-weight="bold" text-anchor="end" >0.30</text>
<line x1="28.10" y1="240.40" x2="30.70" y2="240.40" stroke="#1e1e1e" stroke-width="1.0"/>
<text transform="translate(26.60,242.75) scale(0.9,1)" font-size="8.2" font-weight="bold" text-anchor="end" >0.45</text>
<line x1="28.10" y1="212.70" x2="30.70" y2="212.70" stroke="#1e1e1e" stroke-width="1.0"/>
<text transform="translate(26.60,215.05) scale(0.9,1)" font-size="8.2" font-weight="bold" text-anchor="end" >0.60</text>
<line x1="28.10" y1="185.00" x2="30.70" y2="185.00" stroke="#1e1e1e" stroke-width="1.0"/>
<text transform="translate(26.60,187.35) scale(0.9,1)" font-size="8.2" font-weight="bold" text-anchor="end" >0.75</text>
<text x="21.4" y="178.6" font-size="13" font-weight="normal">d</text>
<text x="32.0" y="193.1" font-size="7.3" font-weight="bold">CoMn<tspan font-size="5.31" dy="2.43">2</tspan><tspan dy="-2.43">O</tspan><tspan font-size="5.31" dy="2.43">4</tspan></text>
<text transform="translate(9.3,253.5) rotate(-90)" font-size="8.6" font-weight="bold" text-anchor="middle">k (min<tspan font-size="6" dy="-3">-1</tspan><tspan dy="3">)</tspan></text>
<rect x="272.00" y="285.38" width="12.8" height="38.12" fill="url(#g0)"/>
<path d="M278.40,283.78V285.38M277.10,283.78h2.6" stroke="#E5B0BC" stroke-width="0.8"/>
<text x="278.70" y="282.38" font-size="6.4" font-weight="normal" text-anchor="middle" style="stroke-width:0.45px">0.2064</text>
<line x1="278.40" y1="323.5" x2="278.40" y2="325.8" stroke="#1e1e1e" stroke-width="1.0"/>
<text transform="translate(273.40,339.20) scale(0.94,1)" font-size="9.0" font-weight="bold" text-anchor="middle" >Control</text>
<rect x="303.32" y="307.16" width="12.8" height="16.34" fill="url(#g1)"/>
<path d="M309.72,305.56V307.16M308.42,305.56h2.6" stroke="#94CFE2" stroke-width="0.8"/>
<text x="310.02" y="304.16" font-size="6.4" font-weight="normal" text-anchor="middle" style="stroke-width:0.45px">0.0885</text>
<line x1="309.72" y1="323.5" x2="309.72" y2="325.8" stroke="#1e1e1e" stroke-width="1.0"/>
<text transform="translate(310.60,339.20) scale(0.94,1)" font-size="9.0" font-weight="bold" text-anchor="middle" >NO<tspan font-size="5.94" dy="2.88">3</tspan><tspan font-size="5.94" dy="-7.20">-</tspan></text>
<rect x="334.64" y="294.99" width="12.8" height="28.51" fill="url(#g2)"/>
<path d="M341.04,293.39V294.99M339.74,293.39h2.6" stroke="#A5A2CE" stroke-width="0.8"/>
<text x="341.34" y="291.99" font-size="6.4" font-weight="normal" text-anchor="middle" style="stroke-width:0.45px">0.1544</text>
<line x1="341.04" y1="323.5" x2="341.04" y2="325.8" stroke="#1e1e1e" stroke-width="1.0"/>
<text transform="translate(340.50,339.20) scale(0.94,1)" font-size="9.0" font-weight="bold" text-anchor="middle" >Cl<tspan font-size="5.94" dy="-4.32">-</tspan></text>
<rect x="365.96" y="294.62" width="12.8" height="28.88" fill="url(#g3)"/>
<path d="M372.36,293.02V294.62M371.06,293.02h2.6" stroke="#ADE3BE" stroke-width="0.8"/>
<text x="372.66" y="291.62" font-size="6.4" font-weight="normal" text-anchor="middle" style="stroke-width:0.45px">0.1564</text>
<line x1="372.36" y1="323.5" x2="372.36" y2="325.8" stroke="#1e1e1e" stroke-width="1.0"/>
<text transform="translate(374.70,339.20) scale(0.94,1)" font-size="9.0" font-weight="bold" text-anchor="middle" >SO<tspan font-size="5.94" dy="2.88">4</tspan><tspan font-size="5.94" dy="-7.20">2-</tspan></text>
<rect x="397.28" y="228.14" width="12.8" height="95.36" fill="url(#g4)"/>
<path d="M403.68,226.54V228.14M402.38,226.54h2.6" stroke="#E4BE96" stroke-width="0.8"/>
<text x="403.98" y="225.14" font-size="6.4" font-weight="normal" text-anchor="middle" style="stroke-width:0.45px">0.5164</text>
<line x1="403.68" y1="323.5" x2="403.68" y2="325.8" stroke="#1e1e1e" stroke-width="1.0"/>
<text transform="translate(404.00,339.20) scale(0.94,1)" font-size="9.0" font-weight="bold" text-anchor="middle" >H<tspan font-size="5.94" dy="2.88">2</tspan><tspan dy="-2.88">PO</tspan><tspan font-size="5.94" dy="2.88">4</tspan><tspan font-size="5.94" dy="-7.20">-</tspan></text>
<rect x="428.60" y="198.11" width="12.8" height="125.39" fill="url(#g5)"/>
<path d="M435.00,196.51V198.11M433.70,196.51h2.6" stroke="#AABDD6" stroke-width="0.8"/>
<text x="435.30" y="195.11" font-size="6.4" font-weight="normal" text-anchor="middle" style="stroke-width:0.45px">0.6790</text>
<line x1="435.00" y1="323.5" x2="435.00" y2="325.8" stroke="#1e1e1e" stroke-width="1.0"/>
<text transform="translate(436.60,339.20) scale(0.94,1)" font-size="9.0" font-weight="bold" text-anchor="middle" >CO<tspan font-size="5.94" dy="2.88">3</tspan><tspan font-size="5.94" dy="-7.20">2-</tspan></text>
<path d="M261.2,184.6V323.5H450.5" fill="none" stroke="#1e1e1e" stroke-width="1.25"/>
<line x1="258.60" y1="323.50" x2="261.20" y2="323.50" stroke="#1e1e1e" stroke-width="1.0"/>
<text transform="translate(257.10,325.85) scale(0.9,1)" font-size="8.2" font-weight="bold" text-anchor="end" >0.00</text>
<line x1="258.60" y1="295.80" x2="261.20" y2="295.80" stroke="#1e1e1e" stroke-width="1.0"/>
<text transform="translate(257.10,298.15) scale(0.9,1)" font-size="8.2" font-weight="bold" text-anchor="end" >0.15</text>
<line x1="258.60" y1="268.10" x2="261.20" y2="268.10" stroke="#1e1e1e" stroke-width="1.0"/>
<text transform="translate(257.10,270.45) scale(0.9,1)" font-size="8.2" font-weight="bold" text-anchor="end" >0.30</text>
<line x1="258.60" y1="240.40" x2="261.20" y2="240.40" stroke="#1e1e1e" stroke-width="1.0"/>
<text transform="translate(257.10,242.75) scale(0.9,1)" font-size="8.2" font-weight="bold" text-anchor="end" >0.45</text>
<line x1="258.60" y1="212.70" x2="261.20" y2="212.70" stroke="#1e1e1e" stroke-width="1.0"/>
<text transform="translate(257.10,215.05) scale(0.9,1)" font-size="8.2" font-weight="bold" text-anchor="end" >0.60</text>
<line x1="258.60" y1="185.00" x2="261.20" y2="185.00" stroke="#1e1e1e" stroke-width="1.0"/>
<text transform="translate(257.10,187.35) scale(0.9,1)" font-size="8.2" font-weight="bold" text-anchor="end" >0.75</text>
<text x="253.6" y="176.8" font-size="13" font-weight="normal">e</text>
<text x="263.7" y="193.1" font-size="7.3" font-weight="bold">CoMn<tspan font-size="5.31" dy="2.43">2</tspan><tspan dy="-2.43">O</tspan><tspan font-size="5.31" dy="2.43">4</tspan><tspan dy="-2.43">-S</tspan></text>
<text transform="translate(239.79999999999998,253.5) rotate(-90)" font-size="8.6" font-weight="bold" text-anchor="middle">k (min<tspan font-size="6" dy="-3">-1</tspan><tspan dy="3">)</tspan></text>
<rect x="494.2" y="185.2" width="187.60" height="138.00" fill="none" stroke="#1e1e1e" stroke-width="1.25"/>
<line x1="491.60" y1="311.50" x2="494.20" y2="311.50" stroke="#1e1e1e" stroke-width="1.0"/>
<text transform="translate(490.10,313.85) scale(0.9,1)" font-size="8.2" font-weight="bold" text-anchor="end" >0.0</text>
<line x1="491.60" y1="288.52" x2="494.20" y2="288.52" stroke="#1e1e1e" stroke-width="1.0"/>
<text transform="translate(490.10,290.87) scale(0.9,1)" font-size="8.2" font-weight="bold" text-anchor="end" >0.2</text>
<line x1="491.60" y1="265.54" x2="494.20" y2="265.54" stroke="#1e1e1e" stroke-width="1.0"/>
<text transform="translate(490.10,267.89) scale(0.9,1)" font-size="8.2" font-weight="bold" text-anchor="end" >0.4</text>
<line x1="491.60" y1="242.56" x2="494.20" y2="242.56" stroke="#1e1e1e" stroke-width="1.0"/>
<text transform="translate(490.10,244.91) scale(0.9,1)" font-size="8.2" font-weight="bold" text-anchor="end" >0.6</text>
<line x1="491.60" y1="219.58" x2="494.20" y2="219.58" stroke="#1e1e1e" stroke-width="1.0"/>
<text transform="translate(490.10,221.93) scale(0.9,1)" font-size="8.2" font-weight="bold" text-anchor="end" >0.8</text>
<line x1="491.60" y1="196.60" x2="494.20" y2="196.60" stroke="#1e1e1e" stroke-width="1.0"/>
<text transform="translate(490.10,198.95) scale(0.9,1)" font-size="8.2" font-weight="bold" text-anchor="end" >1.0</text>
<line x1="503.50" y1="323.2" x2="503.50" y2="325.5" stroke="#1e1e1e" stroke-width="1.0"/>
<text transform="translate(503.50,333.80) scale(0.9,1)" font-size="8.2" font-weight="bold" text-anchor="middle" >0</text>
<line x1="531.67" y1="323.2" x2="531.67" y2="325.5" stroke="#1e1e1e" stroke-width="1.0"/>
<text transform="translate(531.67,333.80) scale(0.9,1)" font-size="8.2" font-weight="bold" text-anchor="middle" >3</text>
<line x1="559.84" y1="323.2" x2="559.84" y2="325.5" stroke="#1e1e1e" stroke-width="1.0"/>
<text transform="translate(559.84,333.80) scale(0.9,1)" font-size="8.2" font-weight="bold" text-anchor="middle" >6</text>
<line x1="588.01" y1="323.2" x2="588.01" y2="325.5" stroke="#1e1e1e" stroke-width="1.0"/>
<text transform="translate(588.01,333.80) scale(0.9,1)" font-size="8.2" font-weight="bold" text-anchor="middle" >9</text>
<line x1="616.18" y1="323.2" x2="616.18" y2="325.5" stroke="#1e1e1e" stroke-width="1.0"/>
<text transform="translate(616.18,333.80) scale(0.9,1)" font-size="8.2" font-weight="bold" text-anchor="middle" >12</text>
<line x1="644.35" y1="323.2" x2="644.35" y2="325.5" stroke="#1e1e1e" stroke-width="1.0"/>
<text transform="translate(644.35,333.80) scale(0.9,1)" font-size="8.2" font-weight="bold" text-anchor="middle" >15</text>
<line x1="672.52" y1="323.2" x2="672.52" y2="325.5" stroke="#1e1e1e" stroke-width="1.0"/>
<text transform="translate(672.52,333.80) scale(0.9,1)" font-size="8.2" font-weight="bold" text-anchor="middle" >18</text>
<text transform="translate(588.40,344.30) scale(0.96,1)" font-size="9.5" font-weight="bold" text-anchor="middle" >Time (min)</text>
<text x="487.4" y="176.2" font-size="13" font-weight="normal">f</text>
<text x="639.6" y="192.6" font-size="6.6" font-weight="bold">CoMn<tspan font-size="4.80" dy="2.20">2</tspan><tspan dy="-2.20">O</tspan><tspan font-size="4.80" dy="2.20">4</tspan><tspan dy="-2.20">-S</tspan></text>
<text transform="translate(470.4,252.6) rotate(-90) scale(1,1.0)" font-size="8.7" font-weight="bold" text-anchor="middle">C<tspan font-size="6.26" dy="3.22">t</tspan><tspan dy="-3.22">/C</tspan><tspan font-size="6.26" dy="3.22">0</tspan></text>
<polyline points="503.50,196.60 531.67,223.95 559.84,259.80 588.01,293.69 616.18,309.78 644.35,310.93 672.52,310.93" fill="none" stroke="#E28592" stroke-width="1.0"/>
<path d="M531.67,221.65V226.24M529.77,221.65h3.8M529.77,226.24h3.8" stroke="#E28592" stroke-width="0.9" fill="none"/>
<path d="M559.84,258.07V261.52M557.94,258.07h3.8M557.94,261.52h3.8" stroke="#E28592" stroke-width="0.9" fill="none"/>
<circle cx="503.50" cy="196.60" r="2.35" fill="none" stroke="#E28592" stroke-width="1.1"/>
<circle cx="531.67" cy="223.95" r="2.35" fill="none" stroke="#E28592" stroke-width="1.1"/>
<circle cx="559.84" cy="259.80" r="2.35" fill="none" stroke="#E28592" stroke-width="1.1"/>
<circle cx="588.01" cy="293.69" r="2.35" fill="none" stroke="#E28592" stroke-width="1.1"/>
<circle cx="616.18" cy="309.78" r="2.35" fill="none" stroke="#E28592" stroke-width="1.1"/>
<circle cx="644.35" cy="310.93" r="2.35" fill="none" stroke="#E28592" stroke-width="1.1"/>
<circle cx="672.52" cy="310.93" r="2.35" fill="none" stroke="#E28592" stroke-width="1.1"/>
<polyline points="503.50,196.60 531.67,227.85 559.84,260.94 588.01,294.26 616.18,311.50 644.35,311.50 672.52,311.50" fill="none" stroke="#5DB8DA" stroke-width="1.0"/>
<rect x="501.30" y="194.40" width="4.40" height="4.40" fill="none" stroke="#5DB8DA" stroke-width="1.1"/>
<rect x="529.47" y="225.65" width="4.40" height="4.40" fill="none" stroke="#5DB8DA" stroke-width="1.1"/>
<rect x="557.64" y="258.74" width="4.40" height="4.40" fill="none" stroke="#5DB8DA" stroke-width="1.1"/>
<rect x="585.81" y="292.06" width="4.40" height="4.40" fill="none" stroke="#5DB8DA" stroke-width="1.1"/>
<rect x="613.98" y="309.30" width="4.40" height="4.40" fill="none" stroke="#5DB8DA" stroke-width="1.1"/>
<rect x="642.15" y="309.30" width="4.40" height="4.40" fill="none" stroke="#5DB8DA" stroke-width="1.1"/>
<rect x="670.32" y="309.30" width="4.40" height="4.40" fill="none" stroke="#5DB8DA" stroke-width="1.1"/>
<polyline points="503.50,196.60 531.67,257.50 559.84,277.95 588.01,297.71 616.18,304.38 644.35,306.90 672.52,308.28" fill="none" stroke="#9086D3" stroke-width="1.0"/>
<path d="M588.01,294.26V301.16M586.11,294.26h3.8M586.11,301.16h3.8" stroke="#9086D3" stroke-width="0.9" fill="none"/>
<path d="M616.18,300.35V308.40M614.28,300.35h3.8M614.28,308.40h3.8" stroke="#9086D3" stroke-width="0.9" fill="none"/>
<polygon points="503.50,193.60 506.30,196.60 503.50,199.60 500.70,196.60" fill="none" stroke="#9086D3" stroke-width="1.1"/>
<polygon points="531.67,254.50 534.47,257.50 531.67,260.50 528.87,257.50" fill="none" stroke="#9086D3" stroke-width="1.1"/>
<polygon points="559.84,274.95 562.64,277.95 559.84,280.95 557.04,277.95" fill="none" stroke="#9086D3" stroke-width="1.1"/>
<polygon points="588.01,294.71 590.81,297.71 588.01,300.71 585.21,297.71" fill="none" stroke="#9086D3" stroke-width="1.1"/>
<polygon points="616.18,301.38 618.98,304.38 616.18,307.38 613.38,304.38" fill="none" stroke="#9086D3" stroke-width="1.1"/>
<polygon points="644.35,303.90 647.15,306.90 644.35,309.90 641.55,306.90" fill="none" stroke="#9086D3" stroke-width="1.1"/>
<polygon points="672.52,305.28 675.32,308.28 672.52,311.28 669.72,308.28" fill="none" stroke="#9086D3" stroke-width="1.1"/>
<polyline points="503.50,196.60 531.67,250.72 559.84,273.47 588.01,302.88 616.18,305.98 644.35,308.05 672.52,310.12" fill="none" stroke="#72D892" stroke-width="1.0"/>
<polygon points="500.50,194.60 506.50,194.60 503.50,199.80" fill="none" stroke="#72D892" stroke-width="1.1"/>
<polygon points="528.67,248.72 534.67,248.72 531.67,253.92" fill="none" stroke="#72D892" stroke-width="1.1"/>
<polygon points="556.84,271.47 562.84,271.47 559.84,276.67" fill="none" stroke="#72D892" stroke-width="1.1"/>
<polygon points="585.01,300.88 591.01,300.88 588.01,306.08" fill="none" stroke="#72D892" stroke-width="1.1"/>
<polygon points="613.18,303.98 619.18,303.98 616.18,309.18" fill="none" stroke="#72D892" stroke-width="1.1"/>
<polygon points="641.35,306.05 647.35,306.05 644.35,311.25" fill="none" stroke="#72D892" stroke-width="1.1"/>
<polygon points="669.52,308.12 675.52,308.12 672.52,313.32" fill="none" stroke="#72D892" stroke-width="1.1"/>
<polyline points="503.50,196.60 531.67,263.70 559.84,287.49 588.01,296.79 616.18,302.31 644.35,305.30 672.52,308.05" fill="none" stroke="#F0AC72" stroke-width="1.0"/>
<path d="M531.67,260.25V267.15M529.77,260.25h3.8M529.77,267.15h3.8" stroke="#F0AC72" stroke-width="0.9" fill="none"/>
<polygon points="501.50,193.60 501.50,199.60 506.70,196.60" fill="none" stroke="#F0AC72" stroke-width="1.1"/>
<polygon points="529.67,260.70 529.67,266.70 534.87,263.70" fill="none" stroke="#F0AC72" stroke-width="1.1"/>
<polygon points="557.84,284.49 557.84,290.49 563.04,287.49" fill="none" stroke="#F0AC72" stroke-width="1.1"/>
<polygon points="586.01,293.79 586.01,299.79 591.21,296.79" fill="none" stroke="#F0AC72" stroke-width="1.1"/>
<polygon points="614.18,299.31 614.18,305.31 619.38,302.31" fill="none" stroke="#F0AC72" stroke-width="1.1"/>
<polygon points="642.35,302.30 642.35,308.30 647.55,305.30" fill="none" stroke="#F0AC72" stroke-width="1.1"/>
<polygon points="670.52,305.05 670.52,311.05 675.72,308.05" fill="none" stroke="#F0AC72" stroke-width="1.1"/>
<polyline points="503.50,196.60 531.67,258.65 559.84,296.56 588.01,308.05 616.18,311.50 644.35,311.50 672.52,311.50" fill="none" stroke="#5E85A8" stroke-width="1.0"/>
<circle cx="503.50" cy="196.60" r="2.35" fill="none" stroke="#5E85A8" stroke-width="1.1"/>
<circle cx="531.67" cy="258.65" r="2.35" fill="none" stroke="#5E85A8" stroke-width="1.1"/>
<circle cx="559.84" cy="296.56" r="2.35" fill="none" stroke="#5E85A8" stroke-width="1.1"/>
<circle cx="588.01" cy="308.05" r="2.35" fill="none" stroke="#5E85A8" stroke-width="1.1"/>
<circle cx="616.18" cy="311.50" r="2.35" fill="none" stroke="#5E85A8" stroke-width="1.1"/>
<circle cx="644.35" cy="311.50" r="2.35" fill="none" stroke="#5E85A8" stroke-width="1.1"/>
<circle cx="672.52" cy="311.50" r="2.35" fill="none" stroke="#5E85A8" stroke-width="1.1"/>
<line x1="602" y1="208.1" x2="618.5" y2="208.1" stroke="#E28592" stroke-width="1.2"/>
<circle cx="610.20" cy="208.10" r="2.35" fill="none" stroke="#E28592" stroke-width="1.1"/>
<text x="619.80" y="210.10" font-size="6.7" font-weight="bold" text-anchor="start" >pH = 3 (Control)</text>
<line x1="602" y1="216.5" x2="618.5" y2="216.5" stroke="#5DB8DA" stroke-width="1.2"/>
<rect x="608.00" y="214.30" width="4.40" height="4.40" fill="none" stroke="#5DB8DA" stroke-width="1.1"/>
<text x="619.80" y="218.50" font-size="6.7" font-weight="bold" text-anchor="start" >pH = 5</text>
<line x1="602" y1="225.0" x2="618.5" y2="225.0" stroke="#9086D3" stroke-width="1.2"/>
<polygon points="610.20,222.00 613.00,225.00 610.20,228.00 607.40,225.00" fill="none" stroke="#9086D3" stroke-width="1.1"/>
<text x="619.80" y="227.00" font-size="6.7" font-weight="bold" text-anchor="start" >pH = 7</text>
<line x1="602" y1="233.5" x2="618.5" y2="233.5" stroke="#72D892" stroke-width="1.2"/>
<polygon points="607.20,231.50 613.20,231.50 610.20,236.70" fill="none" stroke="#72D892" stroke-width="1.1"/>
<text x="619.80" y="235.50" font-size="6.7" font-weight="bold" text-anchor="start" >pH = 9</text>
<line x1="602" y1="242.1" x2="618.5" y2="242.1" stroke="#F0AC72" stroke-width="1.2"/>
<polygon points="608.20,239.10 608.20,245.10 613.40,242.10" fill="none" stroke="#F0AC72" stroke-width="1.1"/>
<text x="619.80" y="244.10" font-size="6.7" font-weight="bold" text-anchor="start" >pH = 10</text>
<line x1="602" y1="250.5" x2="618.5" y2="250.5" stroke="#5E85A8" stroke-width="1.2"/>
<circle cx="610.20" cy="250.50" r="2.35" fill="none" stroke="#5E85A8" stroke-width="1.1"/>
<text x="619.80" y="252.50" font-size="6.7" font-weight="bold" text-anchor="start" >pH = 11</text>
</svg>
</body></html>
